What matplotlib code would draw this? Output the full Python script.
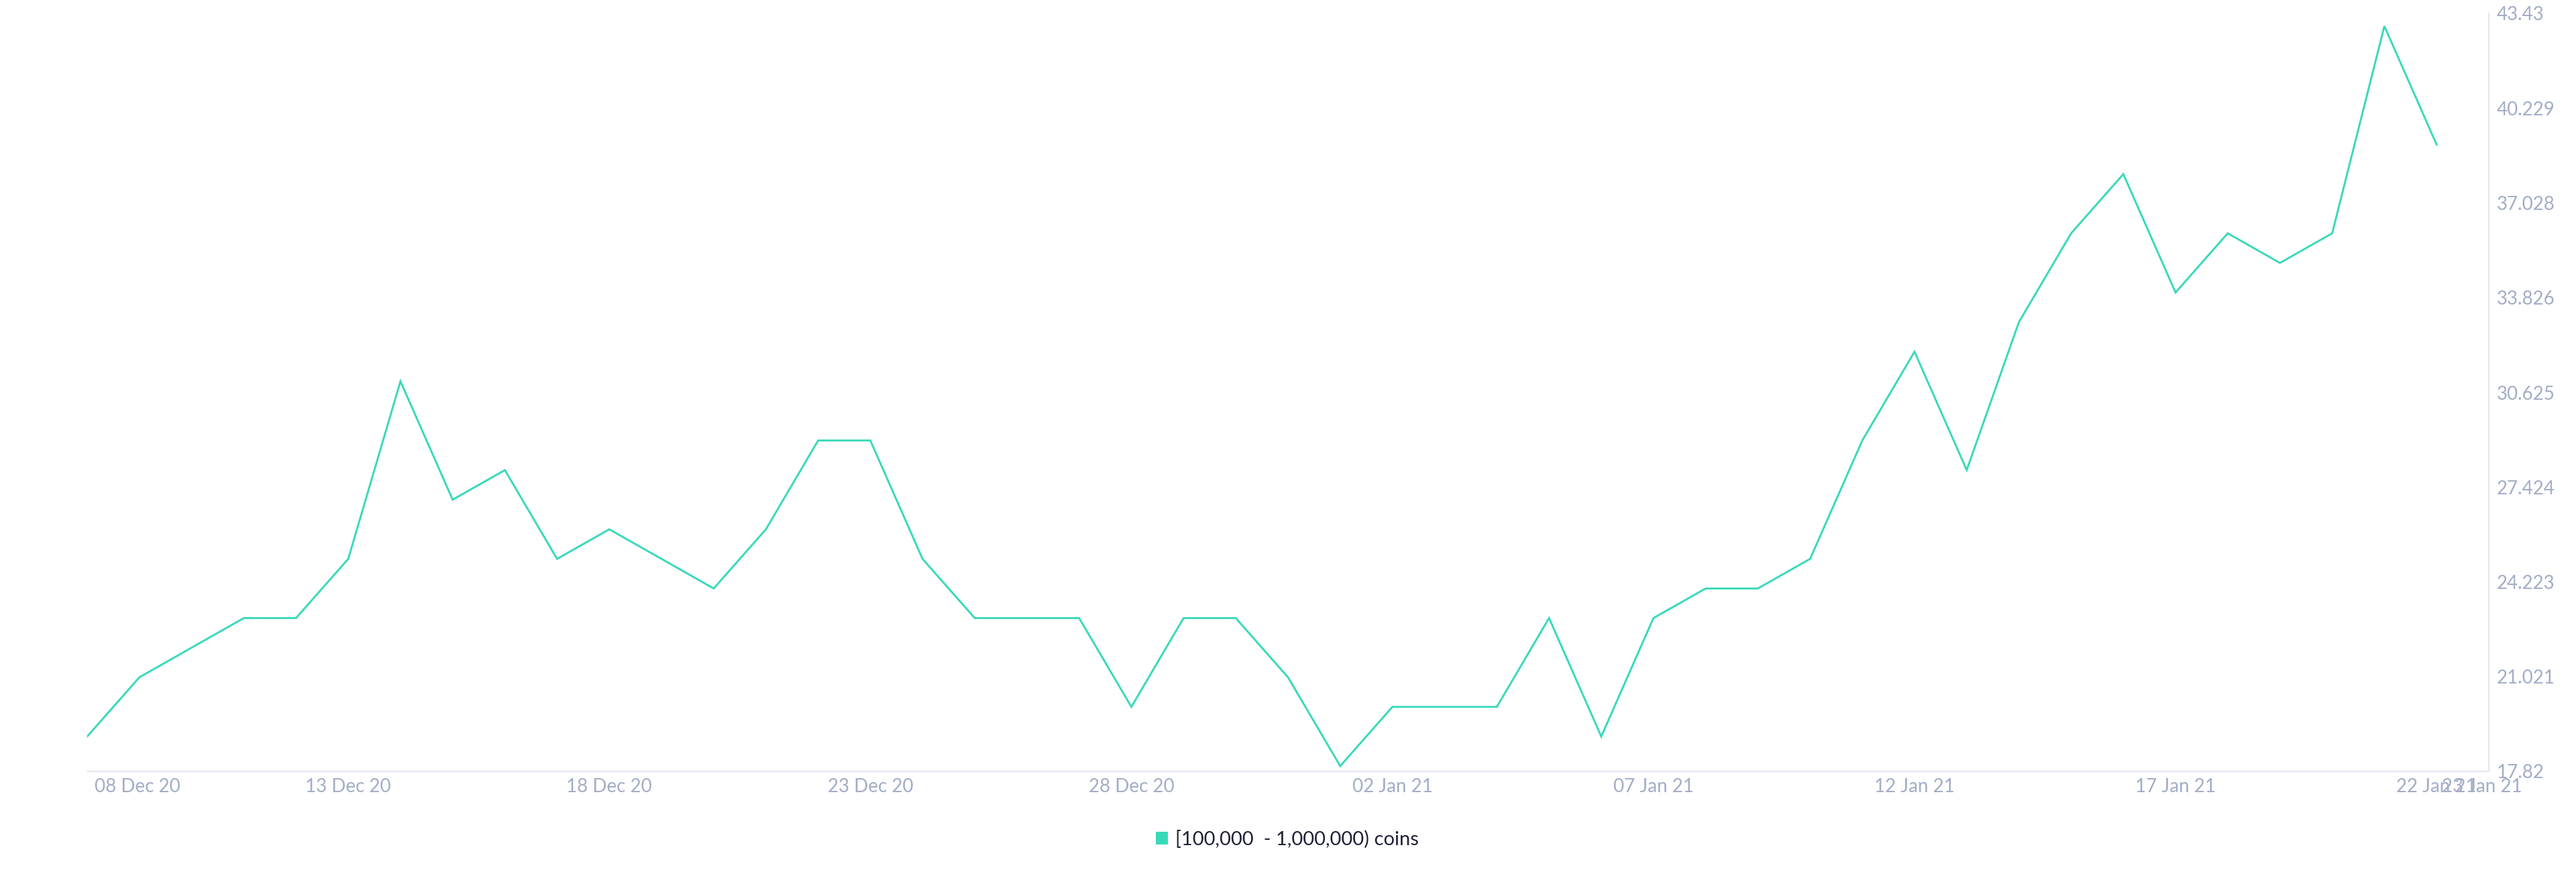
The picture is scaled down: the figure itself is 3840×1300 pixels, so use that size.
import matplotlib
matplotlib.use("Agg")
import matplotlib.pyplot as plt
import matplotlib.dates as mdates
from matplotlib.patches import Patch
from matplotlib.transforms import ScaledTranslation
import pandas as pd

# Daily series: addresses holding [100,000 - 1,000,000) coins
start_date = "2020-12-08"
end_date = "2021-01-22"
holder_counts = [
    19, 21, 22, 23, 23, 25, 31, 27, 28, 25, 26, 25, 24, 26, 29, 29,
    25, 23, 23, 23, 20, 23, 23, 21, 18, 20, 20, 20, 23, 19, 23, 24,
    24, 25, 29, 32, 28, 33, 36, 38, 34, 36, 35, 36, 43, 39,
]
series_label = "[100,000  - 1,000,000) coins"

y_tick_labels = ["17.82", "21.021", "24.223", "27.424", "30.625",
                 "33.826", "37.028", "40.229", "43.43"]
x_tick_dates = ["2020-12-08", "2020-12-13", "2020-12-18", "2020-12-23",
                "2020-12-28", "2021-01-02", "2021-01-07", "2021-01-12",
                "2021-01-17", "2021-01-22", "2021-01-23"]
x_axis_end = "2021-01-23"

LINE_COLOR = "#38d9b9"
TICK_COLOR = "#a3adc7"
AXIS_COLOR = "#e3e7f1"
TEXT_COLOR = "#1f2236"
FONT = ["Lato", "DejaVu Sans"]

plt.rcParams["font.family"] = FONT

dates = pd.date_range(start_date, end_date, freq="D")

fig = plt.figure(figsize=(38.4, 13), dpi=100)
W, H = 3840, 1300
ax = fig.add_axes([130 / W, 1 - 1150 / H, (3710 - 130) / W, (1150 - 20) / H])

ax.plot(dates, holder_counts, color=LINE_COLOR, linewidth=2.1,
        solid_joinstyle="miter")

# y axis on the right, no gridlines
y_ticks = [float(t) for t in y_tick_labels]
ax.set_ylim(y_ticks[0], y_ticks[-1])
ax.yaxis.tick_right()
ax.set_yticks(y_ticks)
ax.set_yticklabels(y_tick_labels)
ax.tick_params(axis="y", length=0, pad=8.5, labelsize=20, labelcolor=TICK_COLOR)

# x axis
ax.set_xlim(pd.Timestamp(start_date), pd.Timestamp(x_axis_end))
ax.set_xticks([pd.Timestamp(d) for d in x_tick_dates])
ax.xaxis.set_major_formatter(mdates.DateFormatter("%d %b %y"))
ax.tick_params(axis="x", length=0, pad=7, labelsize=20, labelcolor=TICK_COLOR)

for side in ("top", "left"):
    ax.spines[side].set_visible(False)
for side in ("bottom", "right"):
    ax.spines[side].set_color(AXIS_COLOR)
    ax.spines[side].set_linewidth(1.6)

# keep the first date label inside the plot area
fig.canvas.draw()
first = ax.get_xticklabels()[0]
first.set_horizontalalignment("left")
first.set_transform(first.get_transform()
                    + ScaledTranslation(11 / 100, 0, fig.dpi_scale_trans))
last = ax.get_xticklabels()[-1]
last.set_transform(last.get_transform()
                   + ScaledTranslation(-10 / 100, 0, fig.dpi_scale_trans))

leg = fig.legend(
    handles=[Patch(facecolor=LINE_COLOR, edgecolor="none")],
    labels=[series_label],
    loc="center",
    bbox_to_anchor=(1919 / W, 1 - 1251 / H),
    frameon=False,
    fontsize=21,
    handlelength=0.62,
    handleheight=0.62,
    handletextpad=0.38,
    borderpad=0,
)
for t in leg.get_texts():
    t.set_color(TEXT_COLOR)

fig.savefig("out.png", dpi=100, facecolor="white")
